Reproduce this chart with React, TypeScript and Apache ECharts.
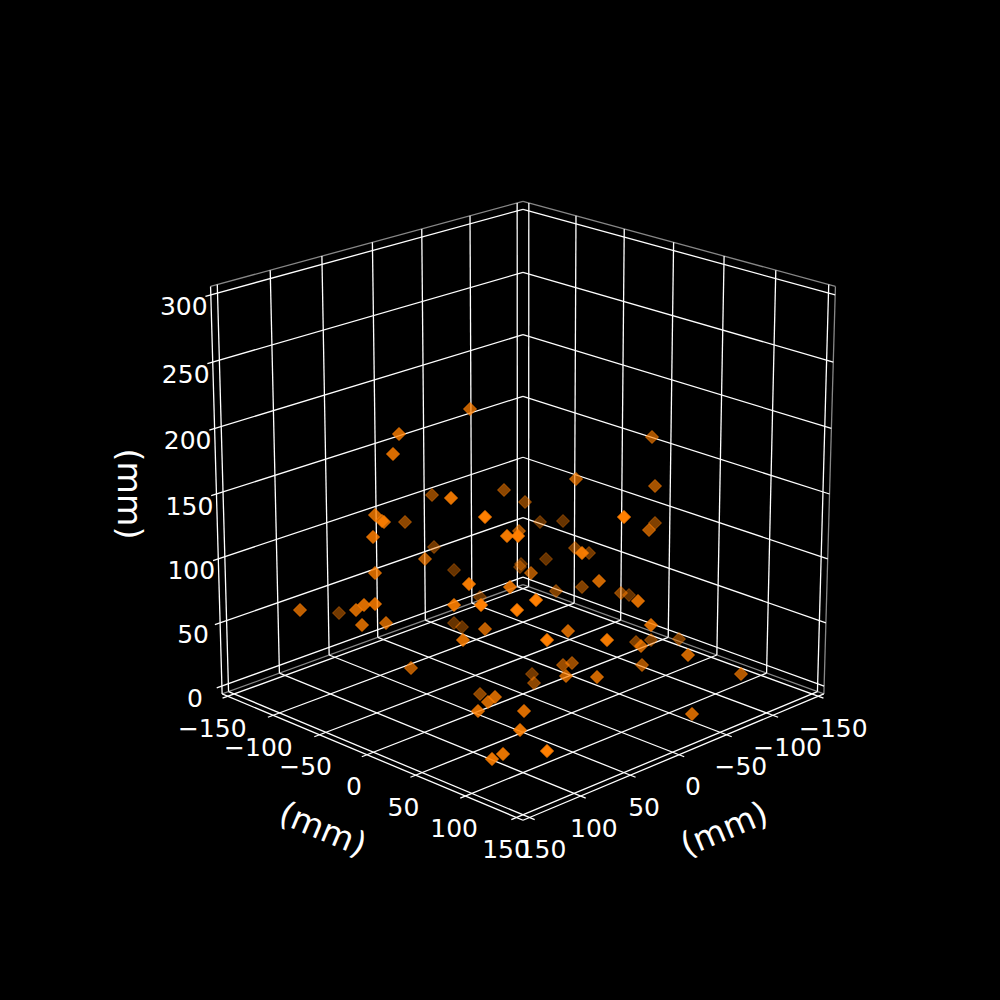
import React, { useEffect, useRef } from "react";
import * as echarts from "echarts";

// Axis ticks (mm)
const xTicks = [-150, -100, -50, 0, 50, 100, 150];
const yTicks = [-150, -100, -50, 0, 50, 100, 150];
const zTicks = [0, 50, 100, 150, 200, 250, 300];
const axisTitle = "(mm)";

// Scatter marks: position in the picture plane and depth shade
const markX = [470, 399, 393, 432, 451, 375, 382, 384, 405, 373, 434, 425, 454, 469, 375, 300, 339, 356, 364, 375, 362, 386, 454, 454, 462, 463, 480, 481, 652, 655, 576, 504, 525, 485, 624, 540, 563, 655, 649, 519, 507, 518, 575, 582, 589, 546, 521, 520, 531, 599, 510, 582, 556, 621, 629, 638, 536, 517, 651, 568, 485, 607, 547, 636, 641, 651, 679, 688, 642, 741, 692, 597, 411, 563, 572, 532, 566, 534, 480, 495, 488, 478, 524, 520, 503, 492, 547];
const markY = [409, 434, 454, 495, 498, 515, 521, 522, 522, 537, 547, 559, 570, 584, 573, 610, 613, 610, 605, 604, 625, 623, 605, 623, 627, 640, 597, 605, 437, 486, 479, 490, 502, 517, 517, 522, 521, 523, 530, 531, 536, 536, 548, 553, 553, 559, 564, 567, 573, 581, 587, 587, 591, 593, 595, 601, 600, 610, 625, 631, 629, 640, 640, 642, 646, 640, 639, 655, 665, 674, 714, 677, 668, 665, 663, 674, 676, 683, 694, 697, 702, 711, 711, 730, 754, 759, 751];
const markShade = [0.75, 0.8, 0.85, 0.55, 0.9, 0.8, 0.8, 0.8, 0.55, 0.85, 0.45, 0.7, 0.4, 0.95, 0.8, 0.75, 0.45, 0.8, 0.85, 0.85, 0.8, 0.75, 0.9, 0.4, 0.4, 0.85, 0.4, 1, 0.65, 0.65, 0.7, 0.55, 0.5, 1, 1, 0.4, 0.4, 0.5, 0.7, 0.65, 0.95, 1, 0.5, 0.95, 0.45, 0.4, 0.4, 0.4, 0.65, 0.8, 0.85, 0.5, 0.5, 0.55, 0.4, 0.85, 1, 1, 0.85, 0.8, 0.75, 0.95, 1, 0.5, 0.75, 0.5, 0.5, 0.8, 0.65, 0.7, 0.8, 0.8, 0.7, 0.6, 0.6, 0.45, 0.75, 0.55, 0.55, 0.8, 0.8, 0.85, 0.85, 0.9, 0.9, 0.9, 1];

// Camera
const ELEV = (20 * Math.PI) / 180;
const AZIM = (45 * Math.PI) / 180;
const DIST = 10;
const PIX = 3940;
const CX = 523;
const CY = 494;
const LIM = 156.25;
const ZLO = -6.25;
const ZHI = 306.25;
const UNIT = 1.1003 / 312.5;
const TICK_OUT = 5;
const TICK_FONT = 25;
const TITLE_FONT = 33.3;

type P = [number, number];
function project(x: number, y: number, z: number): P {
  const X = x * UNIT;
  const Y = y * UNIT;
  const Z = (z - 150) * UNIT;
  const ce = Math.cos(ELEV), se = Math.sin(ELEV), ca = Math.cos(AZIM), sa = Math.sin(AZIM);
  const u = -sa * X + ca * Y;
  const v = -se * ca * X - se * sa * Y + ce * Z;
  const w = ce * ca * X + ce * sa * Y + se * Z;
  const d = DIST - w;
  return [CX + (PIX * u) / d, CY - (PIX * v) / d];
}

const GREY = "rgba(150,150,150,0.9)";
const WHITE = "#ffffff";
type Seg = { value: number[]; color: string };
function seg(a: number[], b: number[], color: string): Seg {
  const p = project(a[0], a[1], a[2]);
  const q = project(b[0], b[1], b[2]);
  return { value: [p[0], p[1], q[0], q[1]], color };
}

function buildSegments(): Seg[] {
  const s: Seg[] = [];
  // pane edges
  s.push(seg([-LIM, -LIM, ZHI], [LIM, -LIM, ZHI], GREY));
  s.push(seg([-LIM, -LIM, ZHI], [-LIM, LIM, ZHI], GREY));
  s.push(seg([-LIM, LIM, ZLO], [-LIM, LIM, ZHI], GREY));
  s.push(seg([-LIM, -LIM, ZLO], [LIM, -LIM, ZLO], GREY));
  s.push(seg([-LIM, -LIM, ZLO], [-LIM, LIM, ZLO], GREY));
  // grid with outward tick
  for (const x of xTicks) {
    s.push(seg([x, LIM + TICK_OUT, ZLO], [x, -LIM, ZLO], WHITE));
    s.push(seg([x, -LIM, ZLO], [x, -LIM, ZHI], WHITE));
  }
  for (const y of yTicks) {
    s.push(seg([LIM + TICK_OUT, y, ZLO], [-LIM, y, ZLO], WHITE));
    s.push(seg([-LIM, y, ZLO], [-LIM, y, ZHI], WHITE));
  }
  for (const z of zTicks) {
    s.push(seg([LIM + TICK_OUT, -LIM, z], [-LIM, -LIM, z], WHITE));
    s.push(seg([-LIM, -LIM, z], [-LIM, LIM, z], WHITE));
  }
  // axis lines
  s.push(seg([LIM, -LIM, ZLO], [LIM, LIM, ZLO], WHITE));
  s.push(seg([LIM, LIM, ZLO], [-LIM, LIM, ZLO], WHITE));
  s.push(seg([LIM, -LIM, ZLO], [LIM, -LIM, ZHI], WHITE));
  return s;
}

type Lab = { value: number[]; text: string; size: number; rot: number };
const fmt = (n: number) => (n < 0 ? "\u2212" + Math.abs(n) : String(n));
function buildLabels(): Lab[] {
  const out: Lab[] = [];
  for (const y of yTicks) {
    const p = project(LIM, y, ZLO);
    out.push({ value: [p[0] - 13 + (y / 150) * 2.5, p[1] + 32], text: fmt(y), size: TICK_FONT, rot: 0 });
  }
  for (const x of xTicks) {
    const p = project(x, LIM, ZLO);
    out.push({ value: [p[0] + 14 - x / 150, p[1] + 32], text: fmt(x), size: TICK_FONT, rot: 0 });
  }
  for (const z of zTicks) {
    const p = project(LIM, -LIM, z);
    out.push({ value: [p[0] - 27, p[1] + 12], text: fmt(z), size: TICK_FONT, rot: 0 });
  }
  const leftMid = project(LIM, 0, ZLO);
  const rightMid = project(0, LIM, ZLO);
  const zMid = project(LIM, -LIM, 150);
  const slope = Math.atan2(817 - 696, 516 - 228);
  out.push({ value: [leftMid[0] - 44, leftMid[1] + 74], text: axisTitle, size: TITLE_FONT, rot: -slope });
  out.push({ value: [rightMid[0] + 45, rightMid[1] + 74], text: axisTitle, size: TITLE_FONT, rot: slope });
  out.push({ value: [zMid[0] - 87, zMid[1]], text: axisTitle, size: TITLE_FONT, rot: -Math.PI / 2 });
  return out;
}

export default function App() {
  const ref = useRef<HTMLDivElement>(null);
  useEffect(() => {
    document.documentElement.style.background = "#000";
    document.body.style.margin = "0";
    document.body.style.background = "#000";
    const chart = echarts.init(ref.current!, undefined, { renderer: "svg", width: 1000, height: 1000 });
    const segments = buildSegments();
    const labels = buildLabels();
    chart.setOption({
      animation: false,
      backgroundColor: "#000000",
      tooltip: { show: false },
      grid: { left: 0, right: 0, top: 0, bottom: 0 },
      xAxis: { type: "value", min: 0, max: 1000, show: false },
      yAxis: { type: "value", min: 0, max: 1000, inverse: true, show: false },
      series: [
        {
          type: "custom",
          silent: true,
          clip: false,
          z: 1,
          encode: { x: [0, 2], y: [1, 3] },
          data: segments.map((s) => ({ value: s.value })),
          renderItem: (params: any, api: any) => {
            const a = api.coord([api.value(0), api.value(1)]);
            const b = api.coord([api.value(2), api.value(3)]);
            return {
              type: "line",
              shape: { x1: a[0], y1: a[1], x2: b[0], y2: b[1] },
              style: { stroke: segments[params.dataIndex].color, lineWidth: 1.3, fill: null },
            };
          },
        },
        {
          type: "scatter",
          silent: true,
          z: 2,
          symbol: "diamond",
          symbolSize: 13,
          data: markX.map((x, i) => ({
            value: [x, markY[i]],
            itemStyle: {
              color: `rgba(255,127,0,${markShade[i]})`,
              borderColor: `rgba(255,127,0,${markShade[i]})`,
              borderWidth: 1,
              opacity: 1,
            },
          })),
        },
        {
          type: "custom",
          silent: true,
          clip: false,
          z: 3,
          encode: { x: 0, y: 1 },
          data: labels.map((l) => ({ value: l.value })),
          renderItem: (params: any, api: any) => {
            const p = api.coord([api.value(0), api.value(1)]);
            const l = labels[params.dataIndex];
            return {
              type: "text",
              x: p[0],
              y: p[1],
              rotation: l.rot,
              style: {
                text: l.text,
                fill: "#ffffff",
                font: `${l.size}px "DejaVu Sans"`,
                align: "center",
                verticalAlign: "middle",
              },
            };
          },
        },
      ],
    });
    return () => chart.dispose();
  }, []);
  return <div ref={ref} style={{ position: "fixed", left: 0, top: 0, width: 1000, height: 1000 }} />;
}
